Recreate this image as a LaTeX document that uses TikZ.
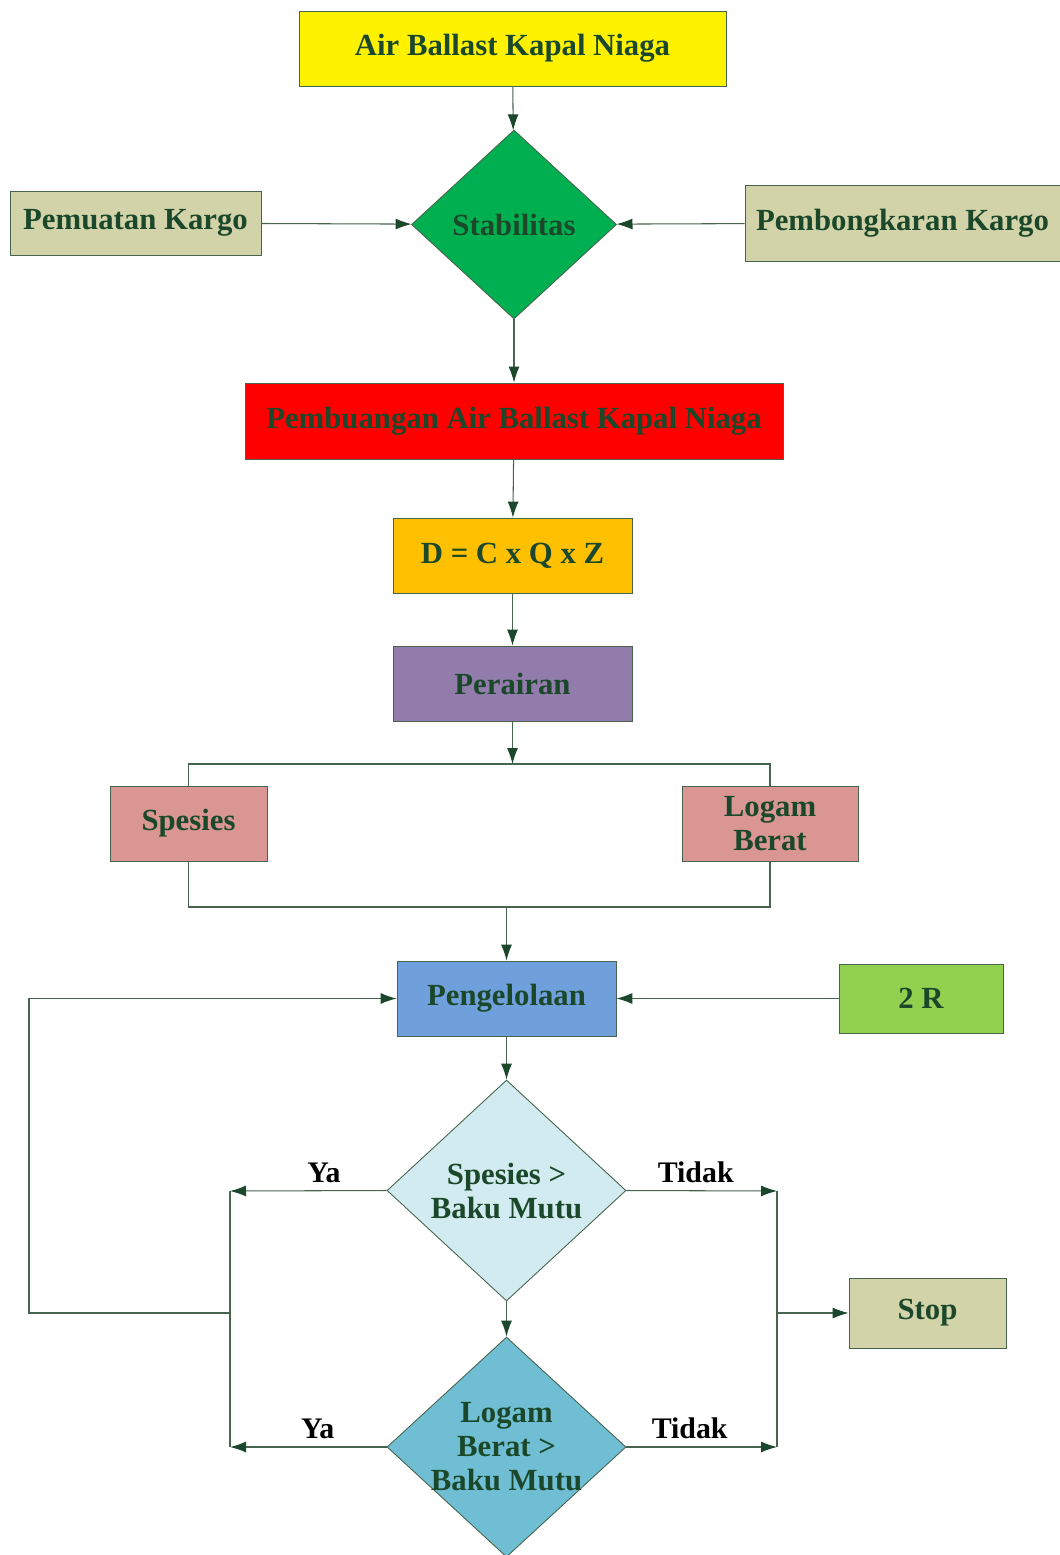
\documentclass[tikz,border=0pt]{standalone}
\usepackage{fontspec}
\setmainfont{Liberation Serif}
\usetikzlibrary{shapes.geometric,arrows.meta}
\definecolor{txtgreen}{RGB}{27,72,42}
\definecolor{linegreen}{RGB}{70,100,78}
\definecolor{khaki}{RGB}{211,211,170}
\definecolor{dgreen}{RGB}{0,176,80}
\definecolor{amber}{RGB}{255,192,0}
\definecolor{lilac}{RGB}{145,124,172}
\definecolor{rose}{RGB}{217,150,147}
\definecolor{sky}{RGB}{112,160,219}
\definecolor{lime}{RGB}{146,208,80}
\definecolor{pale}{RGB}{210,235,240}
\definecolor{teal}{RGB}{112,190,211}
\tikzset{
  box/.style={draw=linegreen, line width=0.5pt, inner sep=0pt, text=txtgreen,
    font=\fontsize{17.5}{19.3}\selectfont\bfseries, align=center},
  decision/.style={diamond, draw=linegreen, line width=0.5pt, inner sep=0pt},
  txt/.style={text=txtgreen, font=\fontsize{17.5}{19.3}\selectfont\bfseries, align=center},
  lbl/.style={text=black, font=\fontsize{17}{19}\selectfont\bfseries},
  arr/.style={draw=linegreen, line width=0.6pt, -{Latex[length=0.32cm,width=0.22cm,color=txtgreen]}},
  link/.style={draw=linegreen, line width=0.6pt}
}
\begin{document}
\begin{tikzpicture}[x=0.02cm, y=-0.02cm]
		\useasboundingbox (0,0) rectangle (1059,1555);
		% top part
		\node[box, fill=yellow, minimum width=8.54cm, minimum height=1.5cm] (air) at (512.5,48.5) {Air Ballast Kapal Niaga};
		\node[decision, fill=dgreen, minimum width=4.1cm, minimum height=3.78cm] (stab) at (514,224.5) {};
		\node[txt] (stab-t) at (stab) {Stabilitas};
		\node[box, fill=khaki, minimum width=5.02cm, minimum height=1.28cm] (muat) at (135.5,223) {Pemuatan Kargo};
		\node[box, fill=khaki, minimum width=6.3cm, minimum height=1.52cm] (bongkar) at (902.5,223) {Pembongkaran Kargo};
		\node[box, fill=red, minimum width=10.76cm, minimum height=1.52cm] (buang) at (514,421) {Pembuangan Air Ballast Kapal Niaga};
		\node[box, fill=amber, minimum width=4.78cm, minimum height=1.5cm] (rumus) at (512.5,555.5) {D = C x Q x Z};
		\node[box, fill=lilac, minimum width=4.78cm, minimum height=1.5cm] (air2) at (512.5,683.5) {Perairan};
		% cabang
		\node[box, fill=rose, minimum width=3.14cm, minimum height=1.5cm] (spes) at (188.5,823.5) {Spesies};
		\node[box, fill=rose, minimum width=3.52cm, minimum height=1.5cm] (logam) at (770,823.5) {Logam\\Berat};
		\coordinate (bt) at (512.5,764);
		\coordinate (bb) at (506.5,907);
		% pengelolaan
		\node[box, fill=sky, minimum width=4.38cm, minimum height=1.5cm] (kelola) at (506.5,998.5) {Pengelolaan};
		\node[box, fill=lime, minimum width=3.28cm, minimum height=1.38cm] (dua) at (921,998.5) {2 R};
		\node[decision, fill=pale, minimum width=4.78cm, minimum height=4.42cm] (cek1) at (506.5,1190.5) {};
		\node[txt] (cek1-t) at (506.5,1191) {Spesies >\\Baku Mutu};
		\node[decision, fill=teal, minimum width=4.78cm, minimum height=4.4cm] (cek2) at (506.5,1447) {};
		\node[txt] (cek2-t) at (506.5,1447) {Logam\\Berat >\\Baku Mutu};
		\node[box, fill=khaki, minimum width=3.14cm, minimum height=1.4cm] (stop) at (927.5,1313) {Stop};
		\coordinate (ya1) at (230,1191);
		\coordinate (ya2) at (230,1447);
		\coordinate (ti1) at (777,1191);
		\coordinate (ti2) at (777,1447);
		\coordinate (back) at (230,1313);
		\coordinate (loop) at (29,1313);
		\coordinate (ke) at (777,1313);
		% panah
		\draw[arr] (air) -- (stab);
		\draw[arr] (muat) -- (stab);
		\draw[arr] (bongkar) -- (stab);
		\draw[arr] (stab) -- (buang);
		\draw[arr] (buang) -- (rumus);
		\draw[arr] (rumus) -- (air2);
		\draw[arr] (air2) -- (bt);
		\draw[link] (spes.north) |- (bt) -| (logam.north);
		\draw[link] (spes.south) |- (bb) -| (logam.south);
		\draw[arr] (bb) -- (kelola);
		\draw[arr] (dua) -- (kelola);
		\draw[arr] (kelola) -- (cek1);
		\draw[arr] (cek1) -- (cek2);
		\draw[arr] (cek1.west) -- (ya1) node[lbl, above, pos=0.4, yshift=1pt] (ya1-t) {Ya};
		\draw[arr] (cek2.west) -- (ya2) node[lbl, above, pos=0.44, yshift=1pt] (ya2-t) {Ya};
		\draw[arr] (cek1.east) -- (ti1) node[lbl, above, pos=0.46, yshift=1pt] (ti1-t) {Tidak};
		\draw[arr] (cek2.east) -- (ti2) node[lbl, above, pos=0.42, yshift=1pt] (ti2-t) {Tidak};
		\draw[link] (ya1) -- (ya2);
		\draw[link] (ti1) -- (ti2);
		\draw[arr] (back) -- (loop) |- (kelola.west);
		\draw[arr] (ke) -- (stop);
	\end{tikzpicture}
\end{document}
